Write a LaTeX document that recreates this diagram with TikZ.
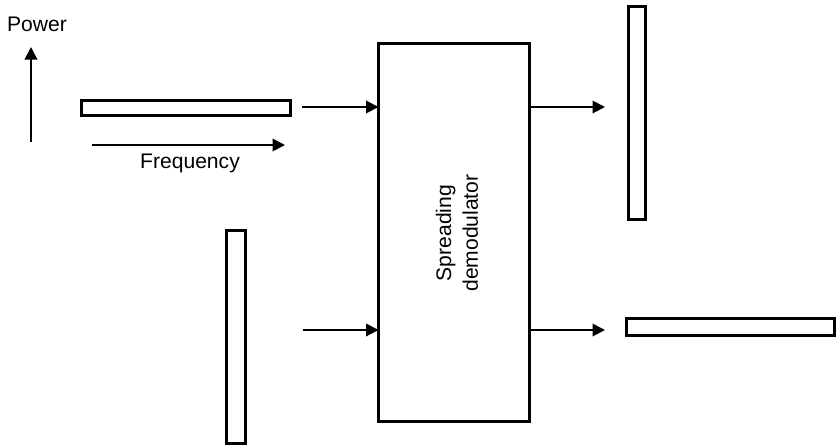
\documentclass[tikz,border=0pt]{standalone}
\usepackage{fontspec}
\setmainfont{Liberation Sans}
\usetikzlibrary{arrows.meta}
\begin{document}
\begin{tikzpicture}[x=0.02cm,y=-0.02cm,
  bar/.style={draw,line width=1.6pt,inner sep=0,outer sep=0},
  arr/.style={line width=1.1pt,-{Triangle[length=0.25cm,width=0.25cm]}},
  lbl/.style={font=\fontsize{12}{15.3}\selectfont}]
  \useasboundingbox (0,0) rectangle (837,447);
  % spectra in and out
  \node[bar,minimum width=4.18cm,minimum height=0.30cm] (inA) at (186,108) {};
  \node[bar,minimum width=0.38cm,minimum height=4.26cm] (inB) at (236,337) {};
  \node[bar,minimum width=0.34cm,minimum height=4.26cm] (outA) at (637,113) {};
  \node[bar,minimum width=4.16cm,minimum height=0.34cm] (outB) at (730.5,327) {};
  % the demodulator
  \node[bar,minimum width=3.02cm,minimum height=7.56cm] (demod) at (454,232.5) {};
  \node[lbl,rotate=90,align=center] (demodtxt) at (457,233) {Spreading\\demodulator};
  % axes
  \coordinate (pwrA) at (31,142);
  \coordinate (pwrB) at (31,47);
  \coordinate (frqA) at (92,145);
  \coordinate (frqB) at (285,145);
  \draw[arr] (pwrA) -- (pwrB);
  \draw[arr] (frqA) -- (frqB);
  \node[lbl] (pwrtxt) at (37,24) {Power};
  \node[lbl] (frqtxt) at (190,163) {Frequency};
  % connectors
  \coordinate (inAend) at (302,107);
  \coordinate (inBend) at (303,330);
  \coordinate (outAend) at (605,107);
  \coordinate (outBend) at (605,330);
  \draw[arr] (inAend) -- (demod.west |- inAend);
  \draw[arr] (inBend) -- (demod.west |- inBend);
  \draw[arr] (demod.east |- outAend) -- (outAend);
  \draw[arr] (demod.east |- outBend) -- (outBend);
\end{tikzpicture}
\end{document}
